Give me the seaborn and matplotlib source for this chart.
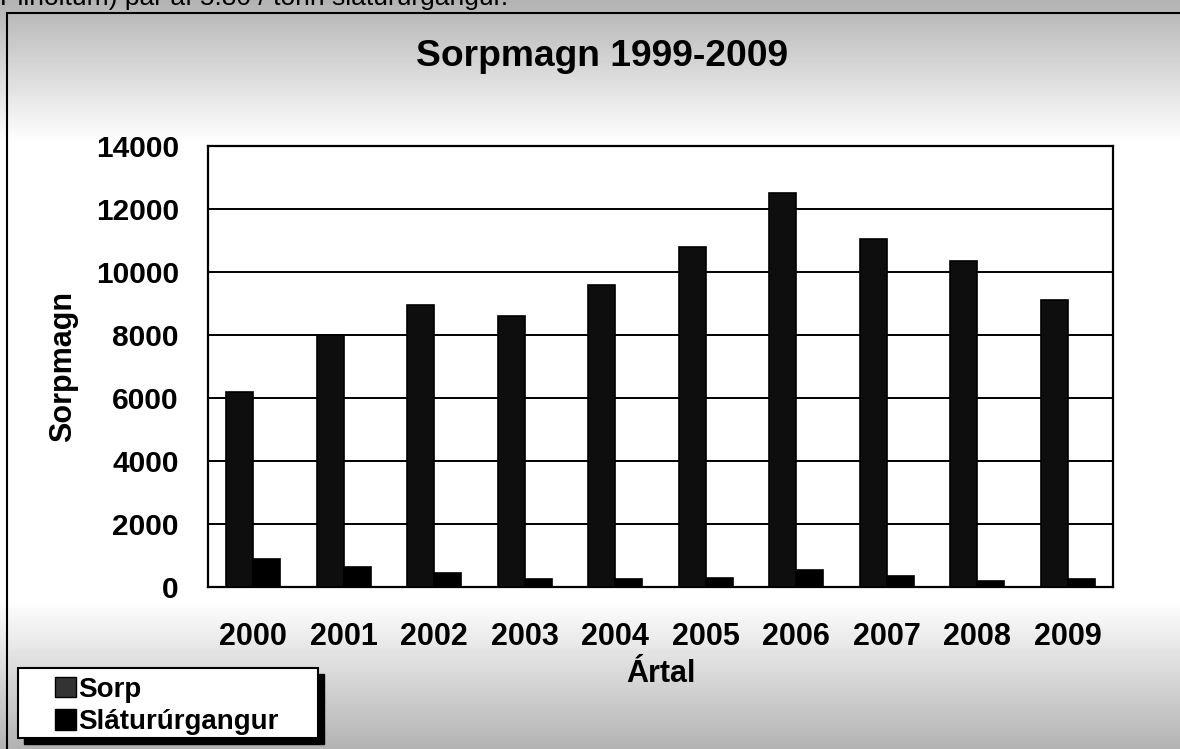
import numpy as np
import pandas as pd
import matplotlib
matplotlib.use("Agg")
import matplotlib.pyplot as plt
from matplotlib.patches import Rectangle, Patch
import seaborn as sns

years = ["2000", "2001", "2002", "2003", "2004", "2005", "2006", "2007", "2008", "2009"]
sorp = [6200, 8000, 8950, 8600, 9600, 10800, 12500, 11050, 10350, 9100]
slatur = [900, 650, 450, 250, 250, 300, 550, 350, 200, 250]
series_names = ["Sorp", "Sláturúrgangur"]
y_ticks = [0, 2000, 4000, 6000, 8000, 10000, 12000, 14000]

df = pd.DataFrame({
    "Ártal": years * 2,
    "Magn": sorp + slatur,
    "Flokkur": [series_names[0]] * len(years) + [series_names[1]] * len(years),
})

sns.set_theme(style="white")
plt.rcParams["font.family"] = ["Liberation Sans", "DejaVu Sans"]
plt.rcParams["text.color"] = "black"
plt.rcParams["axes.labelcolor"] = "black"
plt.rcParams["xtick.color"] = "black"
plt.rcParams["ytick.color"] = "black"

W, H = 1180, 749
fig = plt.figure(figsize=(W / 100, H / 100), dpi=100)

# background (scanned grey bands)
bg = fig.add_axes([0, 0, 1, 1], zorder=-10)
yy = np.linspace(0, 1, H)
grad = np.clip(np.maximum((0.19 - yy) / 0.19, (yy - 0.80) / 0.20), 0, 1)
img = 1 - 0.30 * grad[:, None] * np.ones((1, 10))
bg.imshow(img, cmap="gray", vmin=0, vmax=1, aspect="auto", extent=[0, 1, 0, 1], origin="upper")
bg.set_xlim(0, 1); bg.set_ylim(0, 1)
bg.axis("off")

# outer frame
fig.patches.append(Rectangle((7 / W, -0.01), 1.2, 1 - 13 / H + 0.01, transform=fig.transFigure,
                             fill=False, edgecolor="black", linewidth=1.5, zorder=5))

# partially cut text at the top
fig.text(0.0, 1.003, "Plinoltum) þar af 5.80 / tonn sláturúrgangur.", fontsize=19,
         ha="left", va="center", color="black")

ax = fig.add_axes([208 / W, 1 - 587 / H, (1113 - 208) / W, (587 - 146) / H])
ax.set_facecolor("white")
sns.barplot(data=df, x="Ártal", y="Magn", hue="Flokkur", palette=["#0e0e0e", "#000000"],
            width=0.6, saturation=1, edgecolor="black", linewidth=1.2, ax=ax, legend=False, zorder=3)

ax.set_ylim(0, 14000)
ax.set_xlim(-0.5, len(years) - 0.5)
ax.set_yticks(y_ticks)
ax.set_yticklabels([str(v) for v in y_ticks], fontsize=21.5, fontweight="bold")
ax.yaxis.grid(True, color="black", linewidth=1.4)
ax.set_axisbelow(True)
for s in ax.spines.values():
    s.set_color("black")
    s.set_linewidth(1.6)
    s.set_visible(True)
ax.tick_params(axis="y", direction="inout", length=14, width=1.5, color="black", pad=14)
ax.set_xticks(range(len(years)))
ax.set_xticklabels(years, fontsize=22, fontweight="bold")
ax.tick_params(axis="x", which="major", length=0, pad=25)
ax.set_xticks(np.arange(-0.5, len(years), 1.0), minor=True)
ax.tick_params(axis="x", which="minor", direction="out", length=9, width=1.5, color="black")

ax.set_xlabel("Ártal", fontsize=22, fontweight="bold")
ax.xaxis.set_label_coords(0.5, -0.163)
ax.set_ylabel("Sorpmagn", fontsize=22, fontweight="bold")
ax.yaxis.set_label_coords(-0.144, 0.5)

fig.text(0.51, 1 - 56 / H, "Sorpmagn 1999-2009", fontsize=26.8, fontweight="bold",
         ha="center", va="center")

# legend box with shadow
fig.patches.append(Rectangle((24 / W, 1 - 744 / H), 300 / W, 70 / H, transform=fig.transFigure,
                             facecolor="black", edgecolor="black", zorder=6))
fig.patches.append(Rectangle((18 / W, 1 - 738 / H), 300 / W, 70 / H, transform=fig.transFigure,
                             facecolor="white", edgecolor="black", linewidth=1.5, zorder=7))
handles = [Patch(facecolor="#333333", edgecolor="black", label=series_names[0]),
           Patch(facecolor="black", edgecolor="black", label=series_names[1])]
leg = fig.legend(handles=handles, loc="upper left", bbox_to_anchor=(55 / W, 1 - 677 / H),
                 prop={"weight": "bold", "size": 20}, frameon=False,
                 handlelength=0.75, handleheight=0.75, handletextpad=0.1,
                 labelspacing=0.22, borderpad=0.0, borderaxespad=0.0)
leg.set_zorder(8)

fig.savefig("out.png", dpi=100)
